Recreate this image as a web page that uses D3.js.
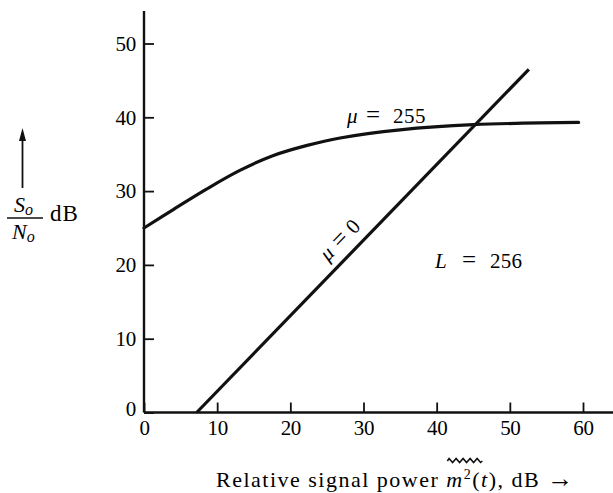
<!DOCTYPE html>
<html>
<head>
<meta charset="utf-8">
<script src="https://cdn.jsdelivr.net/npm/d3@7/dist/d3.min.js"></script>
<style>
  body { margin: 0; background: #fff; }
  svg { display: block; }
  text { font-family: "Liberation Serif", "Times New Roman", serif; fill: #000; }
</style>
</head>
<body>
<div id="chart"></div>
<script>
// data
var xTicks = [0, 10, 20, 30, 40, 50, 60];
var yTicks = [0, 10, 20, 30, 40, 50];

// mu = 255 companded curve
var mu255X = [0, 4, 8.6, 13.1, 17.6, 22.3, 26.8, 35, 45, 59.4];
var mu255Y = [25.0, 27.5, 30.3, 32.8, 34.8, 36.2, 37.2, 38.3, 39.0, 39.3];

// mu = 0 (uniform) straight line
var mu0X = [7.2, 52.6];
var mu0Y = [0, 46.5];

var W = 613, H = 493;
var X_END = 64.2, Y_END = 54.4;   // how far the axis lines run past the last tick

var svg = d3.select("#chart").append("svg")
    .attr("width", W)
    .attr("height", H);

var x = d3.scaleLinear().domain([0, 60]).range([144, 583]);
var y = d3.scaleLinear().domain([0, 50]).range([412.5, 43.5]);

// axes, ticks pointing inward
var xAxis = d3.axisBottom(x)
    .tickValues(xTicks)
    .tickSizeInner(-10)
    .tickSizeOuter(0)
    .tickPadding(8)
    .tickFormat(d3.format("d"));

var yAxis = d3.axisLeft(y)
    .tickValues(yTicks)
    .tickSizeInner(-10)
    .tickSizeOuter(0)
    .tickPadding(8)
    .tickFormat(d3.format("d"));

var gx = svg.append("g").attr("transform", "translate(0," + y(0) + ")").call(xAxis);
var gy = svg.append("g").attr("transform", "translate(" + x(0) + ",0)").call(yAxis);

[gx, gy].forEach(function(g) {
    g.select(".domain").remove();
    g.selectAll(".tick line").attr("stroke", "#111").attr("stroke-width", 1.8);
    g.selectAll(".tick text")
        .attr("fill", "#000")
        .style("font-family", "'Liberation Serif', serif")
        .style("font-size", "21px")
        .style("letter-spacing", "-0.3px");
});
// zero label on the y axis sits a bit left and up
gy.selectAll(".tick text").filter(function(d) { return d === 0; }).attr("dy", "0.15em");

// axis lines
svg.append("line")
    .attr("x1", x(0)).attr("x2", x(X_END))
    .attr("y1", y(0)).attr("y2", y(0))
    .attr("stroke", "#111").attr("stroke-width", 2.4);
svg.append("line")
    .attr("x1", x(0)).attr("x2", x(0))
    .attr("y1", y(0)).attr("y2", y(Y_END))
    .attr("stroke", "#111").attr("stroke-width", 2.4);

// curves
var line255 = d3.line()
    .x(function(d) { return x(d[0]); })
    .y(function(d) { return y(d[1]); })
    .curve(d3.curveCatmullRom.alpha(0.5));

svg.append("path")
    .datum(d3.zip(mu255X, mu255Y))
    .attr("d", line255)
    .attr("fill", "none")
    .attr("stroke", "#111")
    .attr("stroke-width", 3.2)
    .attr("stroke-linecap", "round");

svg.append("path")
    .datum(d3.zip(mu0X, mu0Y))
    .attr("d", d3.line().x(function(d) { return x(d[0]); }).y(function(d) { return y(d[1]); }))
    .attr("fill", "none")
    .attr("stroke", "#111")
    .attr("stroke-width", 3.2);

// curve labels
var t255 = svg.append("g").style("font-size", "21px");
t255.append("text").attr("x", 347).attr("y", 123).style("font-style", "italic").text("\u03bc");
t255.append("text").attr("x", 366).attr("y", 123).style("font-size", "25px").text("=");
t255.append("text").attr("x", 393).attr("y", 123).style("letter-spacing", "0.5px").text("255");

var ang = Math.atan2(y(mu0Y[1]) - y(mu0Y[0]), x(mu0X[1]) - x(mu0X[0])) * 180 / Math.PI;
var t0 = svg.append("text")
    .attr("transform", "translate(328,262) rotate(" + ang + ")")
    .style("font-size", "21px");
t0.append("tspan").style("font-style", "italic").text("\u03bc");
t0.append("tspan").attr("dx", 7).style("font-size", "25px").text("=");
t0.append("tspan").attr("dx", 6).text("0");

var tL = svg.append("g").style("font-size", "21px");
tL.append("text").attr("x", 435).attr("y", 268).style("font-style", "italic").text("L");
tL.append("text").attr("x", 462).attr("y", 268).style("font-size", "25px").text("=");
tL.append("text").attr("x", 490).attr("y", 268).style("letter-spacing", "0.3px").text("256");

// x axis title
var tx = svg.append("text")
    .attr("x", 216).attr("y", 487)
    .style("font-size", "22px")
    .style("letter-spacing", "1.5px");
tx.append("tspan").text("Relative signal power ");
tx.append("tspan").style("font-style", "italic").text("m");
tx.append("tspan").attr("dy", -8).style("font-size", "14px").text("2");
tx.append("tspan").attr("dy", 8).text("(");
tx.append("tspan").style("font-style", "italic").text("t");
tx.append("tspan").text("), dB ");
tx.append("tspan").style("font-size", "26px").text("\u2192");

// wavy bar over m^2(t), placed from where the m starts
var mX = tx.node().getStartPositionOfChar(22).x;
var waveX0 = mX + 1, waveX1 = mX + 36;
var wave = d3.path();
wave.moveTo(waveX0, 461);
for (var i = 0; i < 10; i++) {
    wave.lineTo(waveX0 + (i + 0.5) * (waveX1 - waveX0) / 10, i % 2 ? 462.5 : 458.5);
}
wave.lineTo(waveX1, 461);
svg.append("path")
    .attr("d", wave.toString())
    .attr("fill", "none")
    .attr("stroke", "#111")
    .attr("stroke-width", 1.6);

// y axis title: arrow and So/No dB
svg.append("line")
    .attr("x1", 22.5).attr("x2", 22.5)
    .attr("y1", 188).attr("y2", 138)
    .attr("stroke", "#111").attr("stroke-width", 1.8);
svg.append("path")
    .attr("d", "M22.5,128 L26,141 L19,141 Z")
    .attr("fill", "#111");

var ts = svg.append("text").attr("x", 14).attr("y", 212).style("font-size", "22px");
ts.append("tspan").style("font-style", "italic").text("S");
ts.append("tspan").attr("dy", 3).style("font-style", "italic").style("font-size", "16px").text("o");

svg.append("line")
    .attr("x1", 7).attr("x2", 43)
    .attr("y1", 218).attr("y2", 218)
    .attr("stroke", "#111").attr("stroke-width", 1.6);

var tn = svg.append("text").attr("x", 12).attr("y", 239).style("font-size", "22px");
tn.append("tspan").style("font-style", "italic").text("N");
tn.append("tspan").attr("dy", 3).style("font-style", "italic").style("font-size", "16px").text("o");

svg.append("text")
    .attr("x", 50).attr("y", 221)
    .style("font-size", "23px")
    .style("letter-spacing", "1px")
    .text("dB");
</script>
</body>
</html>
